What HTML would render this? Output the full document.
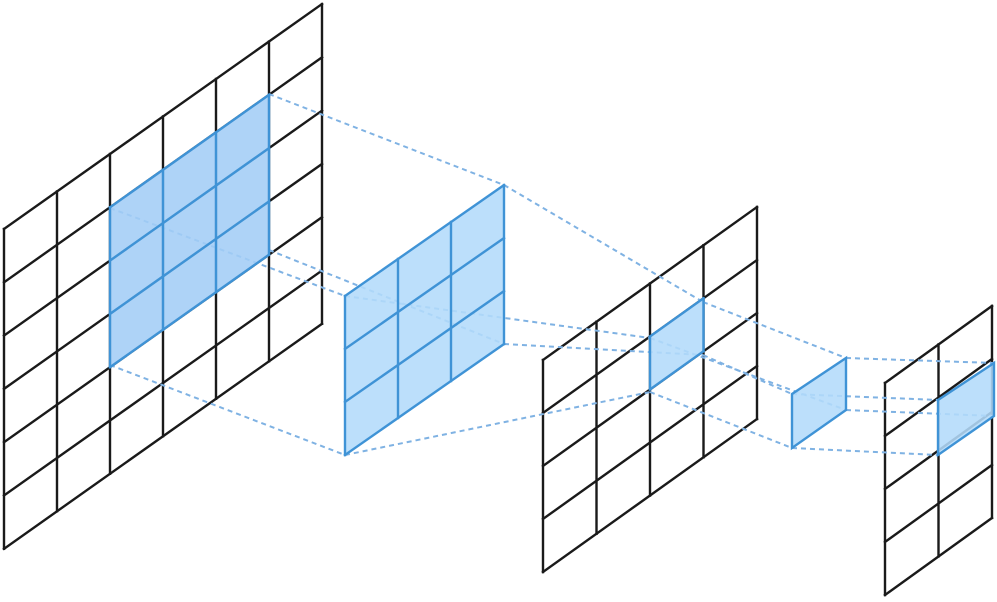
<!DOCTYPE html>
<html><head><meta charset="utf-8"><style>html,body{margin:0;padding:0;background:#fff}svg{display:block}</style></head>
<body>
<svg id="s" width="997" height="602" viewBox="0 0 997 602" xmlns="http://www.w3.org/2000/svg"></svg>
<script>
const s=document.getElementById('s');let out='';
function P(g,i,j){return [g.x+i*g.w, g.y+i*g.w*g.k+j*g.h];}
function lines(g,i0,i1,j0,j1,col,sw){
 for(let i=i0;i<=i1;i++){const a=P(g,i,j0),b=P(g,i,j1);out+=`<line x1="${a[0]}" y1="${a[1]}" x2="${b[0]}" y2="${b[1]}" stroke="${col}" stroke-width="${sw}" stroke-linecap="square"/>`;}
 for(let j=j0;j<=j1;j++){const a=P(g,i0,j),b=P(g,i1,j);out+=`<line x1="${a[0]}" y1="${a[1]}" x2="${b[0]}" y2="${b[1]}" stroke="${col}" stroke-width="${sw}" stroke-linecap="square"/>`;}
}
function fill(g,i0,i1,j0,j1,c){const p=[P(g,i0,j0),P(g,i1,j0),P(g,i1,j1),P(g,i0,j1)];out+=`<polygon points="${p.map(q=>q.join(',')).join(' ')}" fill="${c}" fill-opacity="0.88"/>`;}
const B={x:4,y:229,w:53,h:53.3,k:-0.7075};
const M={x:345,y:296,w:53,h:53,k:-0.698};
const T={x:543,y:360,w:53.5,h:53,k:-0.715};
const L={x:885,y:383,w:53.5,h:53,k:-0.72};
const BK='#1a1a1a',BL='#3f93d6';
lines(B,0,6,0,6,BK,2.4);lines(T,0,4,0,4,BK,2.4);lines(L,0,2,0,4,BK,2.4);
// dashed
const D=[[269,94,504,185],[110,208,345,296],[269,250,504,344],[110,365,345,455],
[504,185,703,302],[345,296,650,338],[504,344,703,355],[345,455,650,392],
[703,302,846,358],[650,338,846,410],[703,355,792,394],[650,392,792,448],
[846,358,994,363],[792,394,938,400],[846,410,994,416],[792,448,938,455]];
D.forEach(d=>out+=`<line x1="${d[0]}" y1="${d[1]}" x2="${d[2]}" y2="${d[3]}" stroke="#7fb2e3" stroke-width="2" stroke-dasharray="5,4"/>`);
fill(B,2,5,1,4,'#a3cdf6');lines(B,2,5,1,4,BL,2.4);
fill(M,0,3,0,3,'#b3dbfb');lines(M,0,3,0,3,BL,2.4);
fill(T,2,3,1,2,'#b3dbfb');lines(T,2,3,1,2,BL,2.4);
out+=`<polygon points="792,394 846,358 846,410 792,448" fill="#b3dbfb" fill-opacity="0.88" stroke="${BL}" stroke-width="2.4"/>`;
out+=`<polygon points="938,400 994,363 994,416 938,455" fill="#b3dbfb" fill-opacity="0.88" stroke="${BL}" stroke-width="2.4"/>`;
s.innerHTML=out;
</script>
</body></html>
